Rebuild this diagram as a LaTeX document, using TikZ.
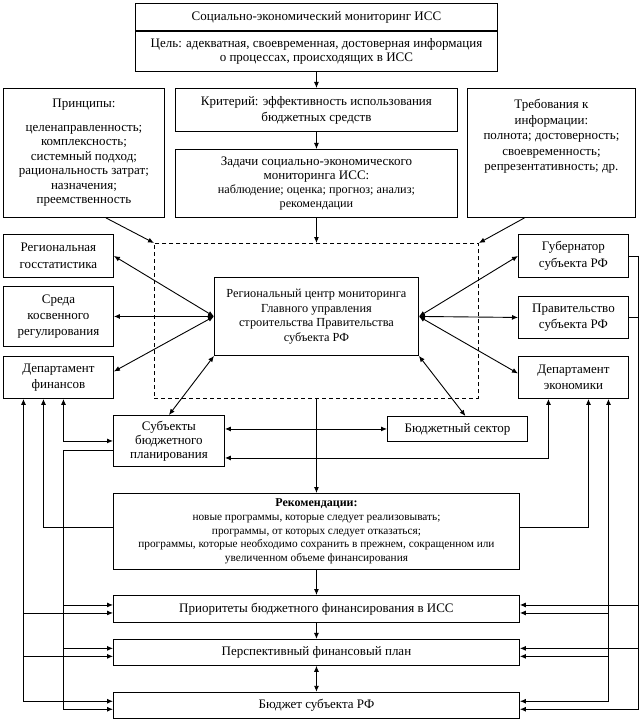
\documentclass[tikz,border=0pt]{standalone}
\usepackage{fontspec}
\setmainfont{Liberation Serif}
\usetikzlibrary{positioning, arrows.meta, calc}

\begin{document}
\begin{tikzpicture}[x=1pt, y=-1pt, line width=0.9pt,
    every node/.style={font=\fontsize{13}{15.5}\selectfont},
    box/.style={rectangle, draw, anchor=north west, align=center, inner sep=2pt},
    zone/.style={rectangle, draw, dash pattern=on 4pt off 3pt, anchor=north west, inner sep=0pt},
    note/.style={font=\fontsize{11.3}{13.7}\selectfont},
    arrow/.style={-{Latex[length=6pt, width=5pt]}},
    both/.style={{Latex[length=6pt, width=5pt]}-{Latex[length=6pt, width=5pt]}}]

  \useasboundingbox (0,0) rectangle (640,719);

  \node[box, minimum width=362pt, minimum height=27pt] (title) at (135,3) {Социально-экономический мониторинг ИСС};
  \node[box, below=0pt of title, minimum width=362pt, minimum height=40pt, font=\fontsize{13}{14.5}\selectfont] (goal) {Цель: адекватная, своевременная, достоверная информация\\о процессах, происходящих в ИСС};
  \node[box, minimum width=161pt, minimum height=129pt, font=\fontsize{13}{14.5}\selectfont] (principles) at (3,88) {Принципы:\\[9pt]целенаправленность;\\комплексность;\\системный подход;\\рациональность затрат;\\назначения;\\преемственность};
  \node[box, minimum width=282pt, minimum height=43pt, font=\fontsize{13}{16}\selectfont] (criterion) at (175,88) {Критерий: эффективность использования\\бюджетных средств};
  \node[box, minimum width=282pt, minimum height=68pt, font=\fontsize{13}{14}\selectfont] (tasks) at (175,149) {Задачи социально-экономического\\мониторинга ИСС:\\{\fontsize{12.2}{14}\selectfont наблюдение; оценка; прогноз; анализ;}\\{\fontsize{12.2}{14}\selectfont рекомендации}};
  \node[box, minimum width=168pt, minimum height=129pt, text depth=36pt] (requirements) at (467,88) {Требования к\\информации:\\полнота; достоверность;\\своевременность;\\репрезентативность; др.};

  \node[zone, minimum width=324pt, minimum height=155pt] (monitor) at (154,243) {};
  \node[box, minimum width=204pt, minimum height=78pt, font=\fontsize{12.3}{14.5}\selectfont] (centre) at (214,277) {Региональный центр мониторинга\\Главного управления\\строительства Правительства\\субъекта РФ};

  \node[box, minimum width=110pt, minimum height=43pt, font=\fontsize{13}{17}\selectfont] (gosstat) at (3,234) {Региональная\\госстатистика};
  \node[box, minimum width=110pt, minimum height=60pt, font=\fontsize{13}{16}\selectfont] (sreda) at (3,286) {Среда\\косвенного\\регулирования};
  \node[box, minimum width=110pt, minimum height=42pt] (finance) at (3,356) {Департамент\\финансов};
  \node[box, minimum width=110pt, minimum height=43pt, font=\fontsize{13}{17}\selectfont] (governor) at (518,234) {Губернатор\\субъекта РФ};
  \node[box, minimum width=110pt, minimum height=42pt, font=\fontsize{13}{16}\selectfont] (government) at (518,296) {Правительство\\субъекта РФ};
  \node[box, minimum width=110pt, minimum height=42pt] (economy) at (518,356) {Департамент\\экономики};

  \node[box, minimum width=111pt, minimum height=51pt, font=\fontsize{13}{14}\selectfont] (subjects) at (113,415) {Субъекты\\бюджетного\\планирования};
  \node[box, minimum width=140pt, minimum height=25pt] (sector) at (387,416) {Бюджетный сектор};

  \node[box, note, minimum width=406pt, minimum height=76pt] (recs) at (113,493) {{\fontsize{12}{13.7}\selectfont\bfseries Рекомендации:}\\новые программы, которые следует реализовывать;\\программы, от которых следует отказаться;\\программы, которые необходимо сохранить в прежнем, сокращенном или\\увеличенном объеме финансирования};
  \node[box, minimum width=406pt, minimum height=27pt] (priorities) at (113,595) {Приоритеты бюджетного финансирования в ИСС};
  \node[box, below=16pt of priorities, minimum width=406pt, minimum height=26pt] (plan) {Перспективный финансовый план};
  \node[box, below=26pt of plan, minimum width=406pt, minimum height=26pt] (budget) {Бюджет субъекта РФ};

  \draw[arrow] (goal.south) -- (criterion.north);
  \draw[arrow] (criterion.south) -- (tasks.north);
  \draw[arrow] (tasks.south) -- (monitor.north);
  \draw[arrow] ([xshift=22pt]principles.south) -- (monitor.north west);
  \draw[arrow] ([xshift=-27pt]requirements.south) -- (monitor.north east);

  \draw[both] (centre.west) -- (gosstat.east);
  \draw[both] (centre.west) -- (sreda.east);
  \draw[both] (centre.west) -- ([yshift=6pt]finance.east);
  \draw[both] (centre.east) -- (governor.west);
  \draw[both] (centre.east) -- (government.west);
  \draw[both] (centre.east) -- ([yshift=4pt]economy.west);
  \draw[both] (centre.south west) -- (subjects.north);
  \draw[both] (centre.south east) -- ([xshift=8pt]sector.north);
  \draw[both] (subjects.east |- sector.west) -- (sector.west);

  \draw[arrow] (monitor.south) -- (recs.north);
  \draw[arrow] (recs.south) -- (priorities.north);
  \draw[arrow] (priorities.south) -- (plan.north);
  \draw[both] (plan.south) -- (budget.north);

  \foreach \b in {priorities, plan, budget} {
    \coordinate (\b-w1) at ([yshift=4pt]\b.west);
    \coordinate (\b-w2) at ([yshift=-4pt]\b.west);
    \coordinate (\b-e1) at ([yshift=4pt]\b.east);
    \coordinate (\b-e2) at ([yshift=-4pt]\b.east);
  }
  \coordinate (fin-a) at ([xshift=-35pt]finance.south);
  \coordinate (fin-b) at ([xshift=-15pt]finance.south);
  \coordinate (fin-c) at ([xshift=5pt]finance.south);
  \coordinate (eco-a) at ([xshift=-25pt]economy.south);
  \coordinate (eco-b) at ([xshift=15pt]economy.south);
  \coordinate (eco-c) at ([xshift=35pt]economy.south);
  \coordinate (gov-r) at ([xshift=10pt]governor.east);

  \draw[both] (fin-a) |- (budget-w1);
  \draw[arrow] (fin-a |- priorities-w2) -- (priorities-w2);
  \draw[arrow] (fin-a |- plan-w2) -- (plan-w2);
  \draw[arrow] ([yshift=4pt]recs.west) -| (fin-b);
  \draw[both] (fin-c) |- (subjects.west);
  \draw[arrow] ([yshift=-9pt]subjects.west) -| (fin-c |- budget-w2) -- (budget-w2);
  \draw[arrow] (fin-c |- priorities-w1) -- (priorities-w1);
  \draw[arrow] (fin-c |- plan-w1) -- (plan-w1);

  \draw[both] (eco-a) |- ([yshift=-17pt]subjects.east);
  \draw[arrow] ([yshift=4pt]recs.east) -| (eco-b);
  \draw[both] (eco-c) |- (budget-e1);
  \draw[arrow] (eco-c |- priorities-e2) -- (priorities-e2);
  \draw[arrow] (eco-c |- plan-e2) -- (plan-e2);
  \draw (governor.east) -- (gov-r);
  \draw (government.east) -- (gov-r |- government.east);
  \draw[arrow] (gov-r) |- (budget-e2);
  \draw[arrow] (gov-r |- priorities-e1) -- (priorities-e1);
  \draw[arrow] (gov-r |- plan-e1) -- (plan-e1);
\end{tikzpicture}
\end{document}
